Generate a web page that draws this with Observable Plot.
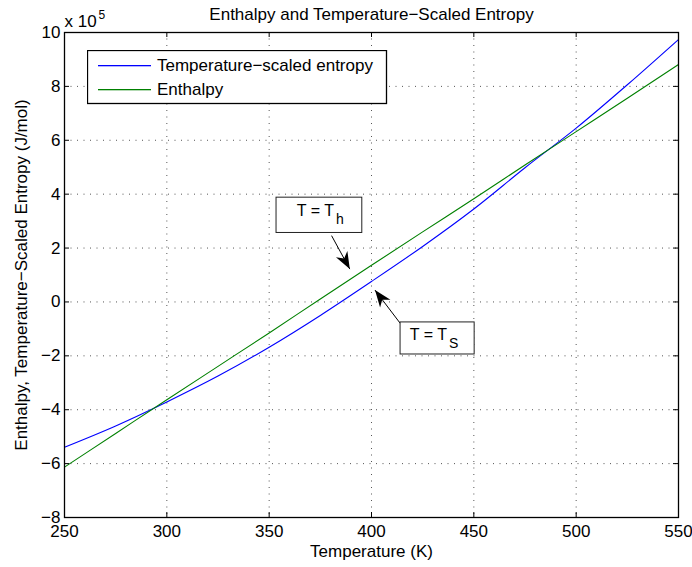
<!DOCTYPE html>
<html><head><meta charset="utf-8">
<script src="https://cdn.jsdelivr.net/npm/d3@7"></script>
<script src="https://cdn.jsdelivr.net/npm/@observablehq/plot@0.6"></script>
<style>
body{margin:0;background:#fff;}
#wrap{position:relative;width:692px;height:567px;overflow:hidden;}
#legend{position:absolute;left:87px;top:50px;}
</style></head><body><div id="wrap"></div>
<script>
// ---- data (values in units of 10^5 J/mol) ----
const temperatures = [250, 275, 300, 325, 350, 375, 400, 425, 450, 475, 500, 525, 550];
const scaledEntropy = [-5.39, -4.60, -3.71, -2.75, -1.68, -0.50, 0.76, 2.06, 3.45, 4.98, 6.45, 8.06, 9.74];
const enthalpy = [-6.13, -4.88, -3.63, -2.39, -1.15, 0.11, 1.36, 2.60, 3.83, 5.08, 6.32, 7.56, 8.81];
const seriesNames = ["Temperature\u2212scaled entropy", "Enthalpy"];
const seriesColors = ["#0000ff", "#008000"];
const xTicks = [250, 300, 350, 400, 450, 500, 550];
const yTicks = [-8, -6, -4, -2, 0, 2, 4, 6, 8, 10];
const titleText = "Enthalpy and Temperature\u2212Scaled Entropy";
const xLabel = "Temperature (K)";
const yLabel = "Enthalpy, Temperature\u2212Scaled Entropy (J/mol)";
// annotations
const annMain = ["T = T", "T = T"];
const annSub = ["h", "S"];
const annLabelX = [382.2, 437.4];
const annLabelY = [3.20, -1.40];
const annBoxX1 = [353.6, 414.2];
const annBoxX2 = [395.5, 450.4];
const annBoxY1 = [2.56, -1.95];
const annBoxY2 = [3.87, -0.76];
const annArrowX1 = [380.5, 414.2];
const annArrowY1 = [2.46, -0.81];
const annArrowX2 = [389.4, 401.7];
const annArrowY2 = [1.22, 0.44];

const rows = [];
seriesNames.forEach((s, i) => {
  const vals = i === 0 ? scaledEntropy : enthalpy;
  temperatures.forEach((t, j) => rows.push({T: t, v: vals[j], series: s}));
});
const ann = annMain.map((m, i) => ({
  main: m, sub: annSub[i], lx: annLabelX[i], ly: annLabelY[i],
  bx1: annBoxX1[i], bx2: annBoxX2[i], by1: annBoxY1[i], by2: annBoxY2[i],
  ax1: annArrowX1[i], ay1: annArrowY1[i], ax2: annArrowX2[i], ay2: annArrowY2[i]
}));

function arrowHead(color, context) {
  const m = d3.create("svg:marker")
    .attr("viewBox", "-18 -7.5 19 15")
    .attr("refX", 0).attr("refY", 0)
    .attr("markerWidth", 19).attr("markerHeight", 15)
    .attr("markerUnits", "userSpaceOnUse")
    .attr("orient", "auto");
  m.append("path").attr("d", "M0,0L-17,-6.5L-12,0L-17,6.5Z").attr("fill", "black").attr("stroke", "none");
  return m.node();
}

const fmt = d => d < 0 ? "\u2212" + Math.abs(d) : String(d);
const grid = {stroke: "#555", strokeDasharray: "1,5.5", strokeWidth: 1};

const chart = Plot.plot({
  width: 692, height: 567,
  marginLeft: 64, marginRight: 14, marginTop: 32, marginBottom: 50,
  style: {fontFamily: "'Liberation Sans', Arial, sans-serif", fontSize: "17px", background: "white", color: "black"},
  x: {domain: [250, 550], ticks: xTicks, tickSize: 0, tickPadding: 7, tickFormat: fmt, label: null},
  y: {domain: [-8, 10], ticks: yTicks, tickSize: 0, tickPadding: 4, tickFormat: fmt, label: null},
  color: {domain: seriesNames, range: seriesColors},
  marks: [
    Plot.ruleX(xTicks.slice(1, -1), grid),
    Plot.ruleY(yTicks.slice(1, -1), grid),
    Plot.line(rows, {x: "T", y: "v", stroke: "series", strokeWidth: 1.1, curve: "monotone-x"}),
    Plot.link(ann, {x1: "ax1", y1: "ay1", x2: "ax2", y2: "ay2", stroke: "black", strokeWidth: 1, markerEnd: arrowHead}),
    Plot.rect(ann, {x1: "bx1", x2: "bx2", y1: "by1", y2: "by2", fill: "white", stroke: "#222", strokeWidth: 1}),
    Plot.text(ann, {x: "lx", y: "ly", text: "main", textAnchor: "end", lineAnchor: "bottom", fontSize: 16, dx: -1}),
    Plot.text(ann, {x: "lx", y: "ly", text: "sub", textAnchor: "start", lineAnchor: "bottom", fontSize: 14, dx: 1, dy: 8.5}),
    Plot.tickX(xTicks, {x: d => d, insetTop: 480, stroke: "black"}),
    Plot.tickX(xTicks, {x: d => d, insetBottom: 480, stroke: "black"}),
    Plot.tickY(yTicks, {y: d => d, insetLeft: 609, stroke: "black"}),
    Plot.tickY(yTicks, {y: d => d, insetRight: 609, stroke: "black"}),
    Plot.frame({stroke: "black", strokeWidth: 1.3}),
    Plot.text([titleText], {text: d => d, frameAnchor: "top", lineAnchor: "bottom", dy: -13, fontSize: 17}),
    Plot.text(["x 10"], {text: d => d, frameAnchor: "top-left", textAnchor: "start", lineAnchor: "bottom", dy: -5.5, fontSize: 17}),
    Plot.text(["5"], {text: d => d, frameAnchor: "top-left", textAnchor: "start", lineAnchor: "bottom", dx: 34, dy: -13.5, fontSize: 12}),
    Plot.text([xLabel], {text: d => d, frameAnchor: "bottom", lineAnchor: "bottom", dy: 39, fontSize: 17}),
    Plot.text([yLabel], {text: d => d, frameAnchor: "left", textAnchor: "middle", lineAnchor: "bottom", rotate: -90, dx: -38, fontSize: 17})
  ]
});
const wrap = document.getElementById("wrap");
wrap.appendChild(chart);

// legend overlay
const lg = d3.select(wrap).append("svg").attr("id", "legend")
  .attr("width", 301).attr("height", 55)
  .style("font-family", "'Liberation Sans', Arial, sans-serif").style("font-size", "17px");
lg.append("rect").attr("x", 0.5).attr("y", 0.5).attr("width", 299).attr("height", 53)
  .attr("fill", "white").attr("stroke", "black").attr("stroke-width", 1.3);
seriesNames.forEach((s, i) => {
  const cy = 15 + i * 24;
  lg.append("rect").attr("x", 11).attr("y", cy).attr("width", 53).attr("height", 1.3)
    .attr("fill", seriesColors[i]);
  lg.append("text").attr("x", 70).attr("y", cy + 0.5).attr("dy", "0.35em").attr("fill", "black").text(s);
});
</script></body></html>
